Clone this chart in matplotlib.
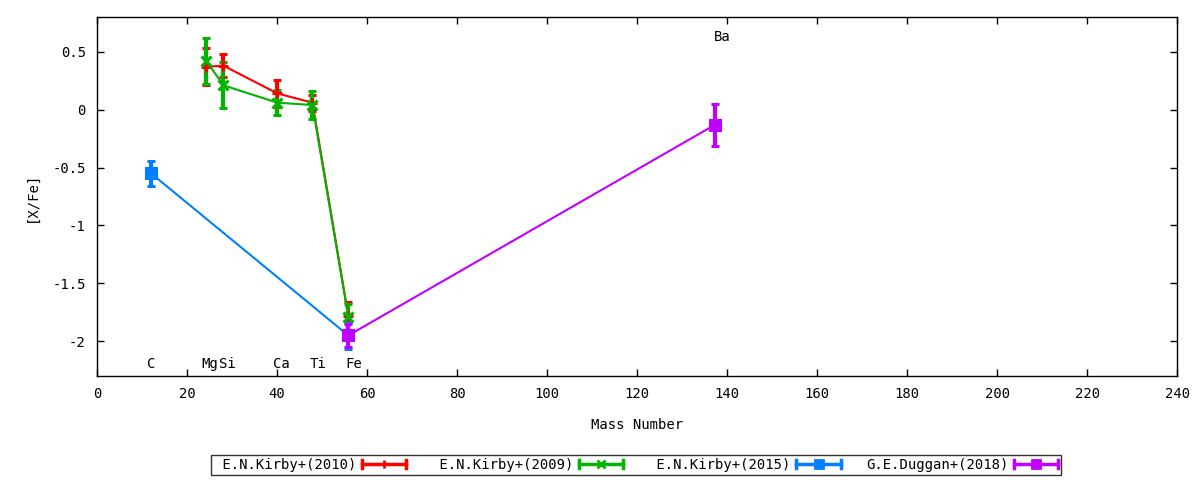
import matplotlib
matplotlib.use("Agg")
import matplotlib.pyplot as plt
from matplotlib.lines import Line2D

# element masses
mass_kirby10 = [24.305, 28.086, 40.078, 47.867, 55.845]
xfe_kirby10 = [0.37, 0.38, 0.14, 0.06, -1.78]
err_kirby10 = [0.16, 0.10, 0.12, 0.07, 0.12]

mass_kirby09 = [24.305, 28.086, 40.078, 47.867, 55.845]
xfe_kirby09 = [0.42, 0.21, 0.06, 0.04, -1.79]
err_kirby09 = [0.20, 0.20, 0.11, 0.12, 0.11]

mass_kirby15 = [12.011, 55.845]
xfe_kirby15 = [-0.55, -1.95]
err_kirby15 = [0.11, 0.12]

mass_duggan18 = [55.845, 137.327]
xfe_duggan18 = [-1.95, -0.13]
err_duggan18 = [0.10, 0.18]

elem_names = ["C", "Mg", "Si", "Ca", "Ti", "Fe", "Ba"]
elem_x = [12, 25, 29, 41, 49, 57, 139]
elem_y = [-2.2, -2.2, -2.2, -2.2, -2.2, -2.2, 0.63]

series = [
    ("E.N.Kirby+(2010)", mass_kirby10, xfe_kirby10, err_kirby10, "#ff0000", "+"),
    ("E.N.Kirby+(2009)", mass_kirby09, xfe_kirby09, err_kirby09, "#00b400", "x"),
    ("E.N.Kirby+(2015)", mass_kirby15, xfe_kirby15, err_kirby15, "#0080ff", "s"),
    ("G.E.Duggan+(2018)", mass_duggan18, xfe_duggan18, err_duggan18, "#c000ff", "s"),
]


class ErrKey:
    """gnuplot style key sample: horizontal bar with caps and a point"""
    def legend_artist(self, legend, orig_handle, fontsize, handlebox):
        x0, y0 = handlebox.xdescent, handlebox.ydescent
        w, h = handlebox.width, handlebox.height
        col = orig_handle.get_color()
        mk = orig_handle.get_marker()
        ym = y0 + h / 2
        cap = 3
        arts = [
            Line2D([x0, x0 + w], [ym, ym], color=col, lw=2.5),
            Line2D([x0, x0], [ym - cap, ym + cap], color=col, lw=2.5),
            Line2D([x0 + w, x0 + w], [ym - cap, ym + cap], color=col, lw=2.5),
            Line2D([x0 + w / 2], [ym], color=col, marker=mk, ms=6, mew=2, ls="none"),
        ]
        for a in arts:
            a.set_transform(handlebox.get_transform())
            handlebox.add_artist(a)
        return arts[0]


plt.rcParams["font.family"] = ["DejaVu Sans Mono"]
plt.rcParams["font.size"] = 10

fig = plt.figure(figsize=(12, 4.8), dpi=100)
ax = fig.add_axes([0.0808, 0.2167, 0.9002, 0.7479])

handles = []
labels = []
for name, xs, ys, es, col, mk in series:
    ax.errorbar(xs, ys, yerr=es, color=col, lw=1.5, elinewidth=3,
                capsize=3.2, capthick=2.5, marker=mk, ms=7, mew=2.2)
    handles.append(Line2D([], [], color=col, marker=mk))
    labels.append(name.rjust(17))

for name, x, y in zip(elem_names, elem_x, elem_y):
    ax.text(x, y, name, ha="center", va="center")

ax.set_xlim(0, 240)
ax.set_ylim(-2.3, 0.8)
ax.set_xticks(range(0, 241, 20))
ax.set_yticks([-2, -1.5, -1, -0.5, 0, 0.5])
ax.set_yticklabels(["-2", "-1.5", "-1", "-0.5", "0", "0.5"])
ax.tick_params(direction="in", top=True, right=True, length=5, width=1, pad=8)
for s in ax.spines.values():
    s.set_linewidth(1)
ax.set_xlabel("Mass Number", labelpad=12)
ax.set_ylabel("[X/Fe]", labelpad=10)

leg = fig.legend(handles, labels, loc="center", bbox_to_anchor=(0.53, 0.031),
                 ncol=4, markerfirst=False, frameon=True, fancybox=False,
                 handler_map={Line2D: ErrKey()},
                 handlelength=3.2, handletextpad=0.4, columnspacing=1.8,
                 borderpad=0.2, borderaxespad=0)
leg.get_frame().set_edgecolor("black")
leg.get_frame().set_linewidth(1)

fig.savefig("out.png", dpi=100)
